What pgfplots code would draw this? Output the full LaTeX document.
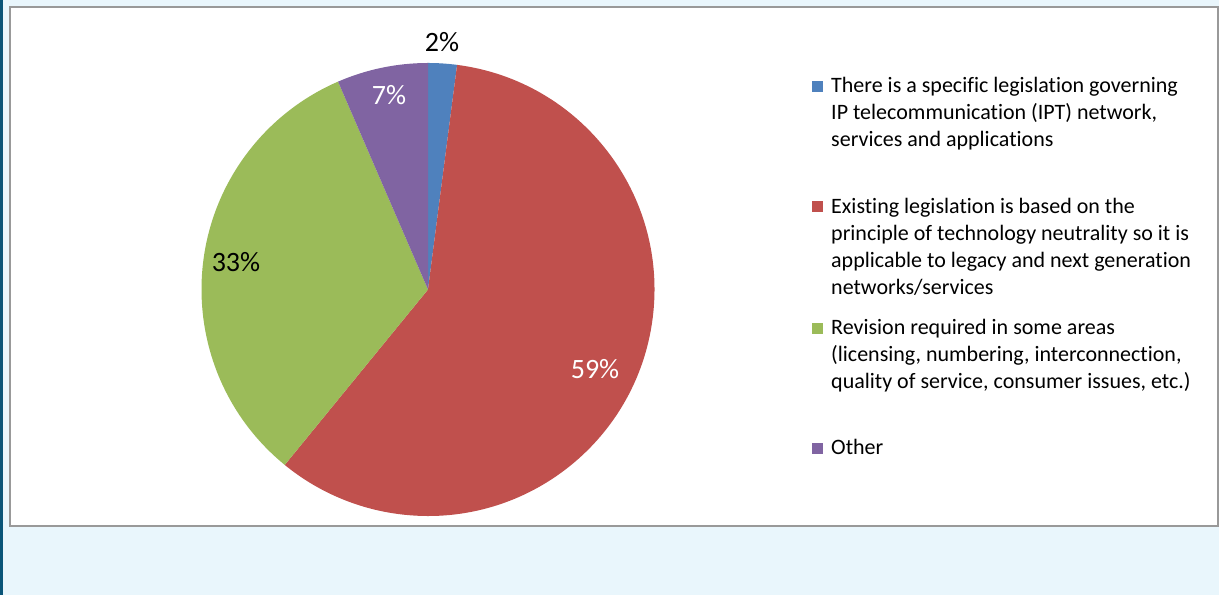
\documentclass[border=0pt]{standalone}
\usepackage{pgfplots}
\pgfplotsset{compat=1.18}
\usepackage{pgfplotstable}
\usepackage{fontspec}
\setmainfont[Ligatures={NoCommon,NoContextual},RawFeature={-calt;-liga;-clig}]{Carlito}

\definecolor{pieblue}{HTML}{4F81BD}
\definecolor{piered}{HTML}{C0504D}
\definecolor{piegreen}{HTML}{9BBB59}
\definecolor{piepurple}{HTML}{8064A2}
\definecolor{pagebg}{HTML}{E9F6FC}
\definecolor{strip}{HTML}{0A5578}

% shares (labels are the rounded values)
\pgfplotstableread{
share
2.05
58.85
32.6
6.5
}\shares

\pgfplotstablegetelem{0}{share}\of\shares \let\sA\pgfplotsretval
\pgfplotstablegetelem{1}{share}\of\shares \let\sB\pgfplotsretval
\pgfplotstablegetelem{2}{share}\of\shares \let\sC\pgfplotsretval
\pgfplotstablegetelem{3}{share}\of\shares \let\sD\pgfplotsretval
\pgfmathsetmacro\tot{\sA+\sB+\sC+\sD}
% clockwise from 12 o'clock
\pgfmathsetmacro\aO{90}
\pgfmathsetmacro\aI{\aO-\sA/\tot*360}
\pgfmathsetmacro\aII{\aI-\sB/\tot*360}
\pgfmathsetmacro\aIII{\aII-\sC/\tot*360}
\pgfmathsetmacro\aIV{\aO-360}

\def\cx{428}
\def\cy{305.5}
\def\R{226.5bp}

% legend key: square sitting just above the first baseline
\newcommand\key[3]{%
  \fill[#1] (axis cs:812,#2+1) rectangle (axis cs:823,#2+12);
  \node[anchor=base west, inner sep=0pt,
        font=\fontsize{22bp}{27bp}\selectfont] at (axis cs:831,#2)
        {\parbox[t]{380bp}{\raggedright #3}};}

\begin{document}
\begin{tikzpicture}
\begin{axis}[
    x=1bp, y=1bp, scale only axis, hide axis,
    xmin=0, xmax=1219, ymin=0, ymax=595,
    clip=false,
]

% page and chart frame
\fill[pagebg] (axis cs:0,0) rectangle (axis cs:1219,595);
\fill[strip] (axis cs:0,0) rectangle (axis cs:3,595);
\filldraw[fill=white, draw=black!40, line width=1.6bp] (axis cs:10,69) rectangle (axis cs:1218,588);

% wedges
\fill[pieblue]   (axis cs:\cx,\cy) -- ++(\aO:\R)   arc[start angle=\aO,   end angle=\aI,   radius=\R] -- cycle;
\fill[piered]    (axis cs:\cx,\cy) -- ++(\aI:\R)   arc[start angle=\aI,   end angle=\aII,  radius=\R] -- cycle;
\fill[piegreen]  (axis cs:\cx,\cy) -- ++(\aII:\R)  arc[start angle=\aII,  end angle=\aIII, radius=\R] -- cycle;
\fill[piepurple] (axis cs:\cx,\cy) -- ++(\aIII:\R) arc[start angle=\aIII, end angle=\aIV,  radius=\R] -- cycle;

% data labels
\begin{scope}[font=\fontsize{28bp}{32bp}\selectfont]
\node[anchor=base] at (axis cs:442,543.3) {2\%};
\node[anchor=base, text=white] at (axis cs:389,490) {7\%};
\node[anchor=base] at (axis cs:236,323) {33\%};
\node[anchor=base, text=white] at (axis cs:595,216) {59\%};
\end{scope}

% legend
\key{pieblue}{502}{There is a specific legislation governing\\IP telecommunication (IPT) network,\\services and applications}
\key{piered}{381.7}{Existing legislation is based on the\\principle of technology neutrality so it is\\applicable to legacy and next generation\\networks/services}
\key{piegreen}{260}{Revision required in some areas\\(licensing, numbering, interconnection,\\quality of service, consumer issues, etc.)}
\key{piepurple}{140}{Other}

\end{axis}
\end{tikzpicture}
\end{document}
